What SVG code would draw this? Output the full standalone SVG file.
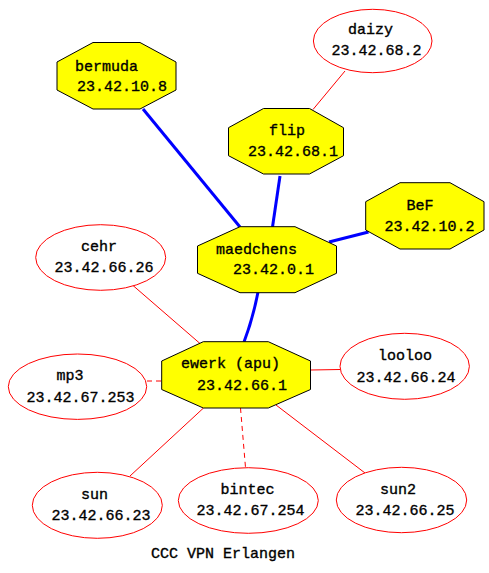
<svg xmlns="http://www.w3.org/2000/svg" width="489" height="573" viewBox="0 0 489 573">
<style>
.oct{fill:#ffff00;stroke:#000;stroke-width:1}
.ell{fill:#fff;stroke:#ff0000;stroke-width:1}
.t{font-family:"Liberation Mono","DejaVu Sans Mono",monospace;font-size:15px;fill:#000;stroke:#000;stroke-width:0.35}
.blue{stroke:#0000ff;stroke-width:3;fill:none}
.red{stroke:#ff0000;stroke-width:1;fill:none}
.dash{stroke-dasharray:5,4}
</style>
<rect width="489" height="573" fill="#fff"/>
<g id="connectors">
<line class="blue" x1="143" y1="109" x2="240" y2="227"/>
<line class="blue" x1="280" y1="176" x2="272.5" y2="227"/>
<line class="blue" x1="368.5" y1="232" x2="329" y2="242"/>
<path class="blue" d="M258,292 Q253,318 244,342"/>
<line class="red" x1="345" y1="71" x2="313" y2="109.5"/>
<line class="red" x1="133" y1="285.5" x2="200" y2="343.5"/>
<line class="red dash" x1="147" y1="381" x2="162" y2="381"/>
<line class="red" x1="311" y1="370" x2="340" y2="369.5"/>
<line class="red" x1="203.5" y1="408" x2="130" y2="476"/>
<line class="red dash" x1="240.5" y1="408" x2="245.5" y2="467.5"/>
<line class="red" x1="276" y1="405" x2="365" y2="473"/>
</g>
<g id="bermuda">
<polygon class="oct" points="93,42.5 140,42.5 176,62 176,90 140,109 93,109 57,90 57,62"/>
<text class="t" x="75" y="71">bermuda</text>
<text class="t" x="77" y="91">23.42.10.8</text>
</g>
<g id="daizy">
<ellipse class="ell" cx="372.7" cy="41" rx="59.3" ry="31.7"/>
<text class="t" x="348" y="34">daizy</text>
<text class="t" x="331.5" y="55">23.42.68.2</text>
</g>
<g id="flip">
<polygon class="oct" points="263.5,108.5 309.5,108.5 343.5,127.7 343.5,155.7 309.5,174 263.5,174 228.5,155.7 228.5,127.7"/>
<text class="t" x="269" y="135">flip</text>
<text class="t" x="248" y="156">23.42.68.1</text>
</g>
<g id="BeF">
<polygon class="oct" points="400,182.7 450,182.7 484,201.7 484,230 450,249 400,249 365.7,230 365.7,201.7"/>
<text class="t" x="406.5" y="210">BeF</text>
<text class="t" x="384.5" y="231">23.42.10.2</text>
</g>
<g id="maedchens">
<polygon class="oct" points="240,226.7 295,226.7 336.5,246 336.5,273.3 295,292.7 240,292.7 197.5,273.3 197.5,246"/>
<text class="t" x="216" y="253.5">maedchens</text>
<text class="t" x="233" y="274">23.42.0.1</text>
</g>
<g id="cehr">
<ellipse class="ell" cx="100.7" cy="257.5" rx="65" ry="32.8"/>
<text class="t" x="81" y="250.5">cehr</text>
<text class="t" x="54.5" y="272">23.42.66.26</text>
</g>
<g id="ewerk">
<polygon class="oct" points="203.3,341.7 268.3,341.7 310.5,361 310.5,389.5 268.3,408 203.3,408 161.7,389.5 161.7,361"/>
<text class="t" x="181" y="367.5">ewerk (apu)</text>
<text class="t" x="197" y="390">23.42.66.1</text>
</g>
<g id="mp3">
<ellipse class="ell" cx="77.5" cy="386.7" rx="69.2" ry="32.7"/>
<text class="t" x="56.5" y="379.5">mp3</text>
<text class="t" x="26.5" y="401.5">23.42.67.253</text>
</g>
<g id="looloo">
<ellipse class="ell" cx="404.7" cy="366.3" rx="64.7" ry="33"/>
<text class="t" x="378" y="360">looloo</text>
<text class="t" x="356.5" y="381.5">23.42.66.24</text>
</g>
<g id="sun">
<ellipse class="ell" cx="97.3" cy="505.3" rx="65" ry="33"/>
<text class="t" x="81" y="499">sun</text>
<text class="t" x="51.5" y="520">23.42.66.23</text>
</g>
<g id="bintec">
<ellipse class="ell" cx="248.3" cy="500.5" rx="70" ry="32.8"/>
<text class="t" x="220.5" y="494">bintec</text>
<text class="t" x="196.5" y="515">23.42.67.254</text>
</g>
<g id="sun2">
<ellipse class="ell" cx="401.5" cy="500" rx="65.2" ry="32.7"/>
<text class="t" x="380" y="494">sun2</text>
<text class="t" x="355.5" y="514.5">23.42.66.25</text>
</g>
<text class="t" x="151" y="557.5">CCC VPN Erlangen</text>
</svg>
